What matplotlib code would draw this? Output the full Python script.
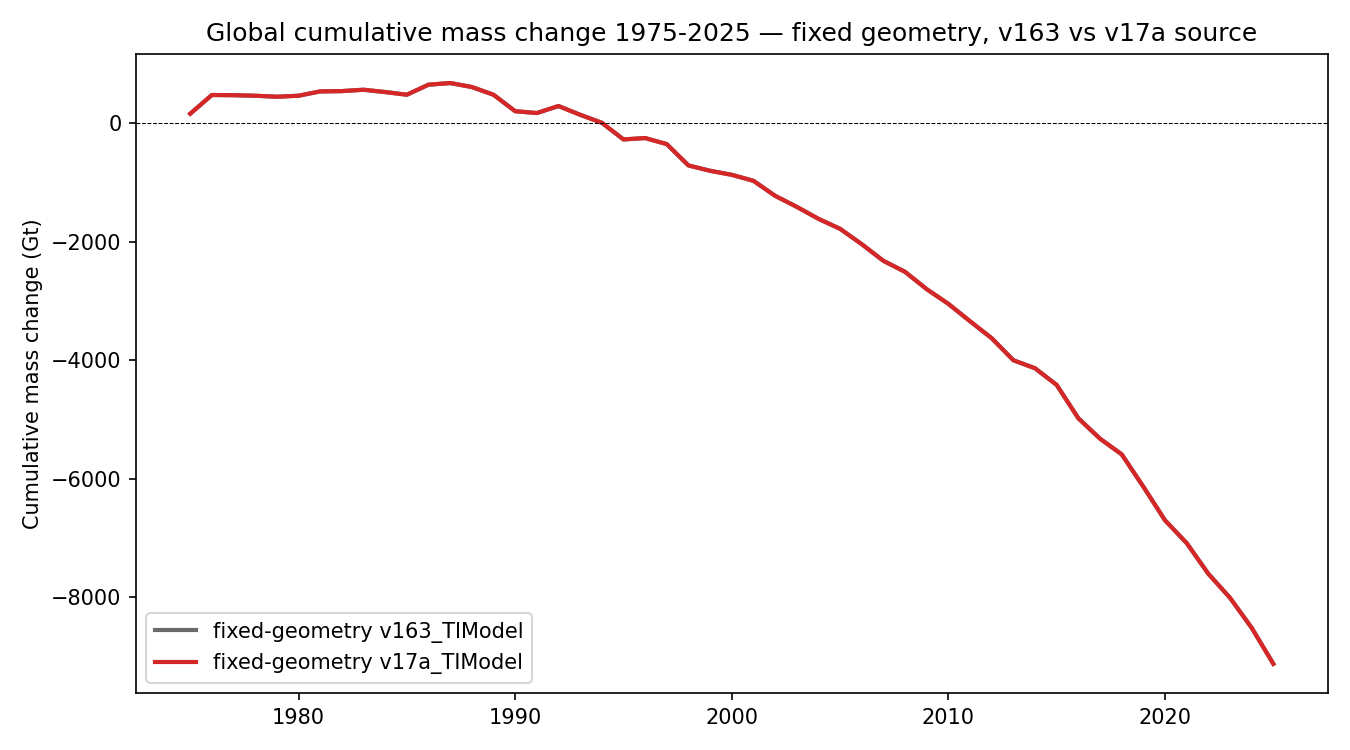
import matplotlib
matplotlib.use("Agg")
import matplotlib.pyplot as plt
import numpy as np

years = list(range(1975, 2026))
v17a = [157, 473, 470, 461, 444, 461, 534, 539, 562, 523,
        478, 647, 675, 608, 478, 200, 169, 287, 140, 5,
        -276, -253, -355, -715, -805, -873, -974, -1227, -1413, -1615,
        -1784, -2043, -2324, -2510, -2802, -3050, -3343, -3630, -4001, -4136,
        -4418, -4980, -5324, -5588, -6134, -6701, -7085, -7603, -8008, -8514,
        -9122]
v163 = list(v17a)

fig, ax = plt.subplots(figsize=(9, 5), dpi=150)
ax.plot(years, v163, color="dimgray", lw=2, label="fixed-geometry v163_TIModel")
ax.plot(years, v17a, color="tab:red", lw=2, label="fixed-geometry v17a_TIModel")
ax.axhline(0, color="black", ls="--", lw=0.5)
ax.set_ylabel("Cumulative mass change (Gt)")
ax.set_title("Global cumulative mass change 1975-2025 — fixed geometry, v163 vs v17a source")
ax.legend(loc="lower left")
fig.tight_layout()
fig.savefig("out.png", dpi=150)
